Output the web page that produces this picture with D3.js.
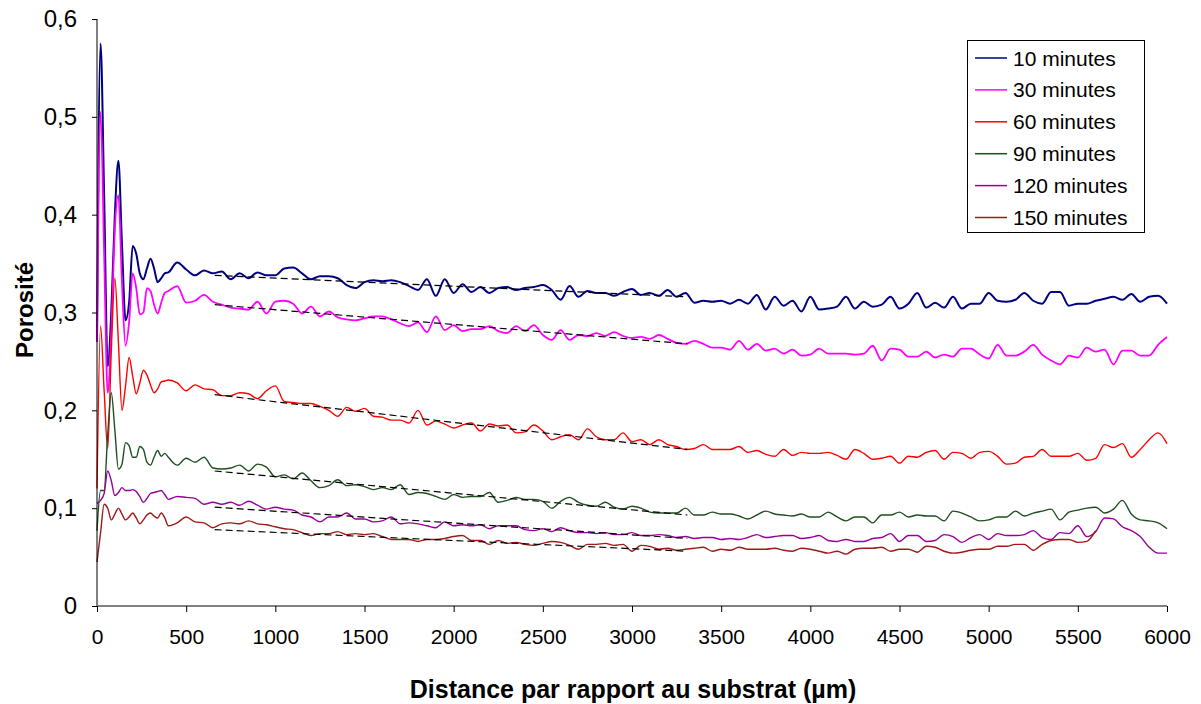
<!DOCTYPE html>
<html><head><meta charset="utf-8">
<script src="https://cdn.jsdelivr.net/npm/d3@7"></script>
<style>
html,body{margin:0;padding:0;background:#fff;}
svg{display:block;}
text{font-family:Arial,"Liberation Sans",sans-serif;}
</style></head>
<body>
<svg id="chart" width="1201" height="704"></svg>
<script>
// sampling positions (µm)
const distances = [...d3.range(0, 401, 20), ...d3.range(450, 6001, 50)];

const seriesNames = ["10 minutes","30 minutes","60 minutes","90 minutes","120 minutes","150 minutes"];
const seriesColors = ["#000080","#ff00ff","#ff0000","#1f4f1f","#990099","#a01818"];

const min10 = [0.27,0.575,0.42,0.245,0.30,0.40,0.455,0.37,0.292,0.31,0.368,0.36,0.34,0.334,0.345,0.355,0.345,0.331,0.335,0.340,0.341,
0.351,0.344,0.338,0.343,
0.340,0.342,0.334,0.340,0.335,0.341,0.338,0.338,0.345,0.346,0.340,0.334,0.337,0.337,0.335,0.328,0.325,0.331,0.333,0.332,0.333,0.331,0.327,0.323,0.334,0.317,0.334,0.320,0.329,0.321,0.326,0.320,0.325,0.326,
0.323,0.325,0.326,0.328,0.323,0.313,0.327,0.316,0.322,0.320,0.320,0.317,0.321,0.324,0.318,0.320,0.317,0.323,0.316,0.320,0.310,0.312,0.311,0.312,0.309,0.313,0.309,0.318,0.303,0.316,0.307,0.312,0.301,0.316,0.303,0.304,
0.306,0.316,0.304,0.311,0.306,0.308,0.316,0.304,0.309,0.320,0.305,0.310,0.305,0.316,0.304,0.309,0.309,0.320,0.312,0.311,0.313,0.320,0.312,0.309,0.321,0.321,0.307,0.309,0.309,0.312,0.314,0.316,0.313,0.319,0.311,0.316,0.317,0.309];

const min30 = [0.27,0.505,0.36,0.218,0.28,0.385,0.42,0.33,0.266,0.29,0.34,0.325,0.298,0.30,0.325,0.322,0.308,0.299,0.31,0.320,0.322,
0.327,0.310,0.312,0.318,
0.311,0.308,0.305,0.304,0.303,0.311,0.299,0.311,0.312,0.309,0.299,0.306,0.296,0.301,0.295,0.293,0.292,0.294,0.296,0.296,0.293,0.289,0.286,0.290,0.280,0.296,0.282,0.287,0.281,0.283,0.283,0.286,0.281,0.279,
0.286,0.281,0.287,0.277,0.272,0.282,0.272,0.277,0.276,0.279,0.276,0.280,0.276,0.274,0.275,0.273,0.277,0.273,0.269,0.268,0.271,0.268,0.264,0.264,0.262,0.271,0.262,0.268,0.261,0.263,0.258,0.262,0.256,0.257,0.263,0.258,
0.258,0.258,0.257,0.258,0.266,0.251,0.263,0.262,0.255,0.255,0.260,0.254,0.257,0.255,0.263,0.263,0.257,0.253,0.267,0.256,0.256,0.260,0.267,0.257,0.251,0.247,0.256,0.254,0.264,0.260,0.262,0.247,0.261,0.261,0.256,0.256,0.267,0.275];

const min60 = [0.12,0.286,0.22,0.161,0.26,0.335,0.27,0.20,0.225,0.254,0.235,0.217,0.228,0.241,0.236,0.226,0.218,0.222,0.229,0.230,0.231,
0.228,0.220,0.226,0.222,
0.221,0.215,0.215,0.218,0.217,0.212,0.220,0.225,0.209,0.208,0.207,0.207,0.204,0.200,0.194,0.203,0.199,0.202,0.194,0.193,0.190,0.190,0.187,0.200,0.185,0.189,0.186,0.182,0.185,0.187,0.179,0.186,0.184,0.185,
0.177,0.178,0.185,0.179,0.170,0.173,0.175,0.170,0.181,0.173,0.170,0.170,0.177,0.168,0.170,0.165,0.170,0.165,0.163,0.160,0.161,0.165,0.160,0.160,0.160,0.163,0.157,0.159,0.155,0.153,0.160,0.154,0.157,0.156,0.156,0.157,
0.154,0.150,0.160,0.156,0.150,0.151,0.153,0.146,0.153,0.152,0.157,0.159,0.150,0.157,0.156,0.151,0.157,0.158,0.153,0.145,0.146,0.152,0.153,0.160,0.153,0.153,0.153,0.156,0.149,0.151,0.165,0.162,0.166,0.152,0.160,0.170,0.177,0.166];

const min90 = [0.077,0.118,0.118,0.175,0.218,0.18,0.140,0.145,0.167,0.164,0.152,0.152,0.163,0.160,0.147,0.144,0.152,0.159,0.153,0.156,0.152,
0.144,0.151,0.147,0.152,
0.141,0.140,0.141,0.144,0.138,0.145,0.142,0.132,0.134,0.130,0.136,0.128,0.121,0.123,0.129,0.123,0.124,0.122,0.119,0.121,0.119,0.124,0.114,0.116,0.115,0.112,0.109,0.114,0.111,0.112,0.112,0.116,0.106,0.108,
0.111,0.109,0.109,0.107,0.100,0.107,0.111,0.106,0.103,0.102,0.106,0.101,0.099,0.102,0.100,0.096,0.095,0.095,0.095,0.100,0.093,0.093,0.096,0.094,0.094,0.092,0.089,0.093,0.097,0.094,0.093,0.092,0.094,0.091,0.091,0.096,
0.091,0.087,0.091,0.091,0.085,0.093,0.093,0.096,0.091,0.093,0.092,0.092,0.087,0.097,0.095,0.091,0.087,0.088,0.091,0.091,0.097,0.092,0.095,0.097,0.099,0.088,0.096,0.098,0.100,0.101,0.095,0.099,0.108,0.094,0.088,0.087,0.085,0.079];

const min120 = [0.105,0.108,0.115,0.138,0.128,0.113,0.116,0.121,0.118,0.118,0.119,0.117,0.112,0.106,0.110,0.115,0.116,0.117,0.118,0.114,0.109,
0.112,0.111,0.110,0.104,
0.106,0.104,0.106,0.103,0.107,0.103,0.099,0.101,0.099,0.098,0.093,0.091,0.086,0.091,0.091,0.095,0.089,0.089,0.086,0.087,0.091,0.084,0.085,0.084,0.082,0.080,0.086,0.082,0.083,0.082,0.083,0.079,0.082,0.082,
0.082,0.078,0.077,0.079,0.076,0.080,0.077,0.075,0.075,0.074,0.075,0.073,0.073,0.075,0.072,0.072,0.073,0.072,0.070,0.071,0.069,0.070,0.070,0.068,0.069,0.068,0.070,0.073,0.070,0.071,0.072,0.072,0.069,0.070,0.072,0.067,
0.066,0.068,0.066,0.066,0.069,0.070,0.074,0.066,0.072,0.072,0.066,0.067,0.073,0.071,0.065,0.070,0.073,0.068,0.074,0.072,0.072,0.073,0.077,0.070,0.068,0.075,0.074,0.082,0.071,0.076,0.090,0.089,0.081,0.077,0.071,0.060,0.054,0.054];

const min150 = [0.045,0.075,0.104,0.100,0.088,0.094,0.100,0.094,0.088,0.091,0.095,0.090,0.084,0.088,0.093,0.095,0.092,0.090,0.095,0.090,0.082,
0.085,0.091,0.086,0.085,
0.080,0.084,0.085,0.084,0.087,0.084,0.083,0.081,0.079,0.078,0.075,0.072,0.074,0.074,0.076,0.073,0.074,0.073,0.074,0.071,0.068,0.068,0.068,0.066,0.068,0.068,0.069,0.071,0.072,0.067,0.067,0.063,0.067,0.064,
0.065,0.063,0.062,0.064,0.066,0.065,0.062,0.058,0.063,0.063,0.064,0.062,0.063,0.056,0.062,0.061,0.058,0.059,0.057,0.058,0.059,0.060,0.056,0.058,0.057,0.060,0.058,0.058,0.058,0.059,0.057,0.056,0.059,0.058,0.056,0.054,
0.056,0.053,0.058,0.059,0.059,0.060,0.056,0.058,0.058,0.055,0.061,0.060,0.056,0.054,0.055,0.057,0.058,0.058,0.061,0.061,0.063,0.063,0.057,0.063,0.067,0.068,0.068,0.065,0.066,0.077,
null,null,null,null,null,null,null,null];

const seriesValues = [min10, min30, min60, min90, min120, min150];

// linear trend lines (dashed)
const trendRange = [660, 3310];
const trendStart = [0.338, 0.308, 0.216, 0.138, 0.101, 0.078];
const trendEnd   = [0.316, 0.268, 0.160, 0.093, 0.069, 0.056];

const xTicks = d3.range(0, 6001, 500);
const yTicks = [0, 0.1, 0.2, 0.3, 0.4, 0.5, 0.6];

const svg = d3.select("#chart");
const x = d3.scaleLinear().domain([0, 6000]).range([97, 1167]);
const y = d3.scaleLinear().domain([0, 0.6]).range([606, 19]);

// series
const lineWidths = [2, 1.8, 1.4, 1.4, 1.4, 1.4];
const line = d3.line().defined(d => d[1] != null).x(d => x(d[0])).y(d => y(d[1])).curve(d3.curveMonotoneX);
seriesValues.forEach((vals, i) => {
  const pts = distances.map((d, j) => [d, vals[j]]);
  svg.append("path").datum(pts)
    .attr("fill", "none").attr("stroke", seriesColors[i])
    .attr("stroke-width", lineWidths[i]).attr("stroke-linejoin", "round")
    .attr("d", line);
});

// trend lines
trendStart.forEach((v, i) => {
  svg.append("line")
    .attr("x1", x(trendRange[0])).attr("y1", y(v))
    .attr("x2", x(trendRange[1])).attr("y2", y(trendEnd[i]))
    .attr("stroke", "#000").attr("stroke-width", 1.2)
    .attr("stroke-dasharray", "7,4");
});

// axes
const fmt = d => d3.format(".1~f")(d).replace(".", ",");
const yAxis = svg.append("g").attr("transform", "translate(97,0)")
  .call(d3.axisLeft(y).tickValues(yTicks).tickSize(5).tickPadding(15).tickFormat(fmt));
yAxis.select(".domain").attr("stroke", "#000").attr("d", "M0,19V606");
yAxis.selectAll("text").attr("font-size", 24).attr("font-family", "Arial, 'Liberation Sans'").attr("fill", "#000");

const xAxis = svg.append("g").attr("transform", "translate(0,606)")
  .call(d3.axisBottom(x).tickValues(xTicks).tickSize(6).tickPadding(17).tickFormat(d3.format("d")));
xAxis.select(".domain").attr("stroke", "#808080").attr("stroke-width", 2).attr("d", "M97,0H1167");
xAxis.selectAll(".tick line").attr("stroke", "#000");
xAxis.selectAll("text").attr("font-size", 21).attr("font-family", "Arial, 'Liberation Sans'").attr("fill", "#000");

// axis titles
svg.append("text").attr("x", 633).attr("y", 698).attr("text-anchor", "middle")
  .attr("font-size", 25).attr("font-weight", "bold").text("Distance par rapport au substrat (µm)");
svg.append("text").attr("transform", "translate(33,310) rotate(-90)").attr("text-anchor", "middle")
  .attr("font-size", 24).attr("font-weight", "bold").text("Porosité");

// legend
const lg = svg.append("g");
lg.append("rect").attr("x", 967.5).attr("y", 40.5).attr("width", 177).attr("height", 192)
  .attr("fill", "#fff").attr("stroke", "#000").attr("stroke-width", 1);
seriesNames.forEach((n, i) => {
  const yy = 58 + i * 31.9;
  lg.append("line").attr("x1", 975).attr("x2", 1007).attr("y1", yy).attr("y2", yy)
    .attr("stroke", seriesColors[i]).attr("stroke-width", 1.5);
  lg.append("text").attr("x", 1013).attr("y", yy).attr("dy", "0.36em")
    .attr("font-size", 21).text(n);
});
</script>
</body></html>
